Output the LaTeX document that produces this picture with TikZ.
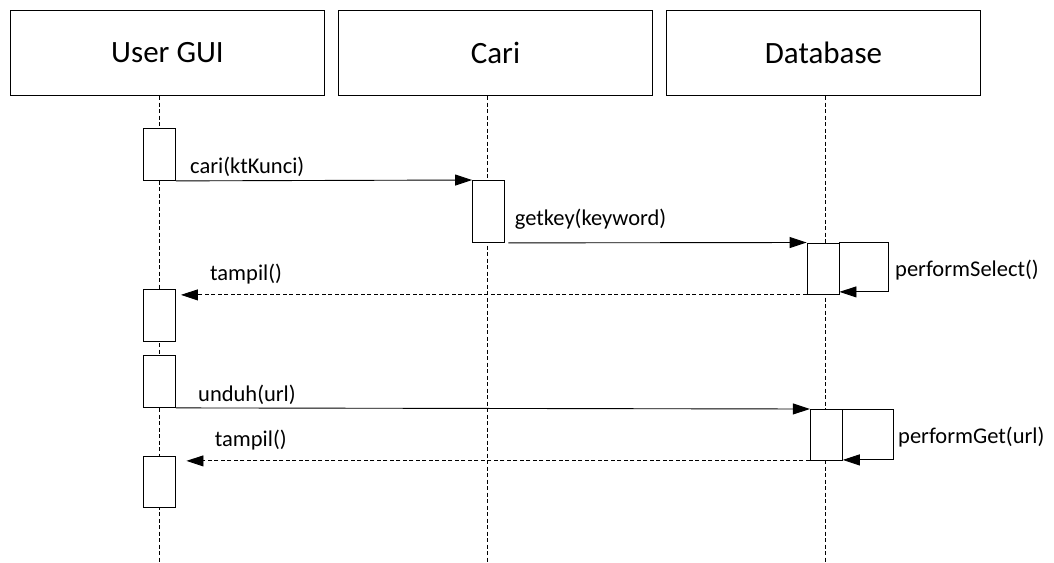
\documentclass[tikz,border=0pt]{standalone}
\usepackage{fontspec}
\setmainfont{Carlito}
\usetikzlibrary{arrows.meta,calc}
\begin{document}
\begin{tikzpicture}[x=1pt,y=-1pt,
  head/.style={draw, line width=1pt, minimum width=314pt, minimum height=85pt,
    inner sep=0pt, anchor=north west, font=\fontsize{31}{36}\selectfont},
  bar/.style={draw, fill=white, line width=0.9pt, minimum width=32pt,
    inner sep=0pt, anchor=north},
  life/.style={line width=0.7pt, dash pattern=on 4pt off 2.5pt},
  msg/.style={line width=0.9pt, -{Triangle[length=17pt,width=11pt]}},
  ret/.style={msg, dash pattern=on 4pt off 2.5pt},
  lbl/.style={font=\fontsize{22.5}{27}\selectfont, anchor=base west, inner sep=0pt}
]
\useasboundingbox (0,0) rectangle (1054,562);

% participants
\node[head] (ug) at (10,10)  {User GUI};
\node[head] (ca) at (338,10) {Cari};
\node[head] (db) at (666,10) {Database};

% lifelines
\coordinate (ugEnd) at (159.5,562);
\coordinate (caEnd) at (487.5,562);
\coordinate (dbEnd) at (825.7,562);
\draw[life] (ug.south -| ugEnd) -- (ugEnd);
\draw[life] (ca.south -| caEnd) -- (caEnd);
\draw[life] (db.south -| dbEnd) -- (dbEnd);

% activation bars
\node[bar, minimum height=52pt]   (a1) at (159.5,128) {};
\node[bar, minimum height=62pt]   (c1) at (488.5,180) {};
\node[bar, minimum height=51.5pt] (d1) at (823,242.5) {};
\node[bar, minimum height=52pt]   (a2) at (159.5,289) {};
\node[bar, minimum height=52pt]   (a3) at (159.5,355) {};
\node[bar, minimum height=51pt]   (d2) at (826.3,409) {};
\node[bar, minimum height=51pt]   (a4) at (159.5,456) {};

% messages
\draw[msg] (a1.south east) -- (c1.north west);
\draw[msg] ($(c1.south east)+(3.5,0)$) -- (d1.north west);
\draw[msg] (d1.north east) -- ++(49,0) |- ([yshift=3pt]d1.south east);
\draw[ret] (d1.south west) -- ($(a2.east |- d1.south west)+(5,0)$);
\draw[msg] (a3.south east) -- (d2.north west);
\draw[msg] (d2.north east) -- ++(50.6,0) |- ([yshift=1pt]d2.south east);
\draw[ret] (d2.south west) -- ($(a4.east |- d2.south west)+(10.5,0)$);

% message labels
\node[lbl] (l1) at (190,173)   {cari(ktKunci)};
\node[lbl] (l2) at (514.7,225) {getkey(keyword)};
\node[lbl] (l3) at (895,276.7) {performSelect()};
\node[lbl] (l4) at (210,280.7) {tampil()};
\node[lbl] (l5) at (198,401)   {unduh(url)};
\node[lbl] (l6) at (898,443.3) {performGet(url)};
\node[lbl] (l7) at (214.7,446.7) {tampil()};
\end{tikzpicture}
\end{document}
